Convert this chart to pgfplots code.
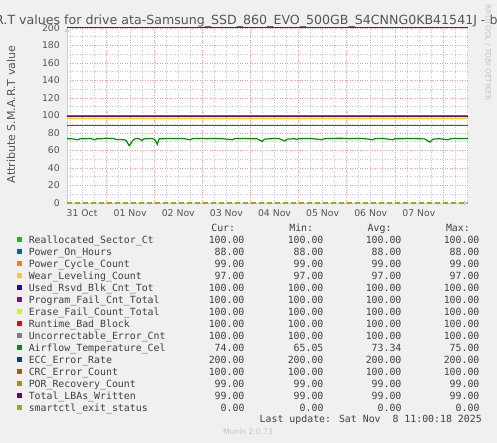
\documentclass[border=0pt]{standalone}
\usepackage{fontspec}
\setmainfont{DejaVu Sans}
\newfontfamily\monofont{DejaVu Sans Mono}
\usepackage{pgfplots}
\pgfplotsset{compat=1.18}
\usetikzlibrary{arrows.meta}

\definecolor{bgcol}{HTML}{F0F0F0}
\definecolor{axiscol}{HTML}{C8C8FF}
\definecolor{majgrid}{HTML}{F09696}
\definecolor{mingrid}{HTML}{C8C8C8}
\definecolor{tickcol}{HTML}{555555}
\definecolor{legcol}{HTML}{404040}
\definecolor{faint}{HTML}{C4C4C4}
% munin palette
\definecolor{cA}{HTML}{00CC00}
\definecolor{cB}{HTML}{0066B3}
\definecolor{cC}{HTML}{FF8000}
\definecolor{cD}{HTML}{FFCC00}
\definecolor{cE}{HTML}{330099}
\definecolor{cF}{HTML}{990099}
\definecolor{cG}{HTML}{CCFF00}
\definecolor{cH}{HTML}{FF0000}
\definecolor{cI}{HTML}{808080}
\definecolor{cJ}{HTML}{008F00}
\definecolor{cK}{HTML}{00487D}
\definecolor{cL}{HTML}{B35A00}
\definecolor{cM}{HTML}{B38F00}
\definecolor{cN}{HTML}{6B006B}
\definecolor{cO}{HTML}{8FB300}

% one legend row: name, cur, min, avg, max
\newcommand\lrow[5]{\rlap{#1}\hspace{215.7bp}\llap{#2}\hspace{79bp}\llap{#3}\hspace{78bp}\llap{#4}\hspace{78bp}\llap{#5}}
\newcommand\legfont{\monofont\fontsize{9.88bp}{12bp}\selectfont}

\begin{document}
\begin{tikzpicture}
\useasboundingbox (0,0) rectangle (497bp,443bp);
\fill[bgcol] (0,0) rectangle (497bp,443bp);
\begin{axis}[
    at={(67bp,240bp)}, anchor=south west,
    scale only axis, width=401bp, height=175bp,
    xmin=4.5, xmax=204.5, ymin=0, ymax=200,
    clip=false,
    axis background/.style={fill=white},
    axis x line=bottom, axis y line=left,
    axis line style={draw=axiscol, line width=0.8bp, -{Triangle[width=5bp,length=4bp]}},
    xtick={24,48,...,192}, xticklabels={},
    minor xtick={6,12,...,204},
    extra x ticks={12,36,...,180},
    extra x tick labels={31 Oct,01 Nov,02 Nov,03 Nov,04 Nov,05 Nov,06 Nov,07 Nov},
    extra x tick style={grid=none, major tick length=0pt},
    ytick={0,20,...,200}, minor ytick={10,30,...,190},
    major tick length=0pt, minor tick length=0pt,
    grid=both,
    major grid style={draw=majgrid, dash pattern=on 1bp off 1.5bp, line width=0.6bp},
    minor grid style={draw=mingrid, dash pattern=on 1bp off 1.5bp, line width=0.6bp},
    /pgf/number format/assume math mode=true,
    ticklabel style={font=\fontsize{9.3bp}{11bp}\selectfont, text=tickcol},
    yticklabel style={inner sep=0pt, xshift=-7bp},
    xticklabel style={inner sep=0pt, yshift=-6bp},
    legend image code/.code={\draw[#1, solid, line width=5.5bp] (0bp,1.9bp) -- (5.5bp,1.9bp); \path[draw=none, fill=none] (0bp,0bp) -- (12bp,0bp);},
    legend cell align=left,
    legend style={at={(axis description cs:-0.13217,-0.1863)}, anchor=north west,
      draw=none, fill=none, inner sep=0pt, outer sep=0pt, row sep=0pt, column sep=0pt,
      font=\legfont, text=legcol,
      nodes={inner sep=0pt, text height=7.7bp, text depth=4.3bp}},
  ]
  \addplot[draw=cA, line width=1bp] coordinates {(4.5,100) (204.5,100)};
  \addlegendentry{\lrow{Reallocated\_Sector\_Ct}{100.00}{100.00}{100.00}{100.00}}
  \addplot[draw=cB, line width=1bp] coordinates {(4.5,88) (204.5,88)};
  \addlegendentry{\lrow{Power\_On\_Hours}{88.00}{88.00}{88.00}{88.00}}
  \addplot[draw=cC, line width=1bp] coordinates {(4.5,99) (204.5,99)};
  \addlegendentry{\lrow{Power\_Cycle\_Count}{99.00}{99.00}{99.00}{99.00}}
  \addplot[draw=cD, line width=1bp] coordinates {(4.5,97) (204.5,97)};
  \addlegendentry{\lrow{Wear\_Leveling\_Count}{97.00}{97.00}{97.00}{97.00}}
  \addplot[draw=cE, line width=1bp] coordinates {(4.5,100) (204.5,100)};
  \addlegendentry{\lrow{Used\_Rsvd\_Blk\_Cnt\_Tot}{100.00}{100.00}{100.00}{100.00}}
  \addplot[draw=cF, line width=1bp] coordinates {(4.5,100) (204.5,100)};
  \addlegendentry{\lrow{Program\_Fail\_Cnt\_Total}{100.00}{100.00}{100.00}{100.00}}
  \addplot[draw=cG, line width=1bp] coordinates {(4.5,100) (204.5,100)};
  \addlegendentry{\lrow{Erase\_Fail\_Count\_Total}{100.00}{100.00}{100.00}{100.00}}
  \addplot[draw=cH, line width=1bp] coordinates {(4.5,100) (204.5,100)};
  \addlegendentry{\lrow{Runtime\_Bad\_Block}{100.00}{100.00}{100.00}{100.00}}
  \addplot[draw=cI, line width=1bp] coordinates {(4.5,100) (204.5,100)};
  \addlegendentry{\lrow{Uncorrectable\_Error\_Cnt}{100.00}{100.00}{100.00}{100.00}}
  \addplot[draw=cJ, line width=1.2bp] coordinates {
    (4.5,73.5) (6,73.5) (8,73.0) (10,72.2) (11,73.5) (14,73.5) (16,73.8)
    (18.5,72.3) (19.5,73.5) (22,73.5) (24,74.0) (26,73.8) (28,73.5)
    (29,72.5) (31,72.5) (33,72.3) (34,71.5) (35.5,65.5) (36.5,68.5)
    (37.5,72.0) (38.5,73.5) (40,73.8) (42,71.5) (43,73.5) (45,73.5)
    (47,73.8) (48.5,72.0) (49.5,67.0) (50.5,73.5) (53,73.5) (56,73.8)
    (59,73.5) (62,73.8) (66,72.3) (67,73.5) (70,73.8) (74,73.5) (78,73.8)
    (82,73.5) (87,72.3) (88,73.5) (92,73.8) (96,73.5) (99,73.5)
    (102,70.5) (103,73.0) (106,73.5) (110,73.8) (113,71.0) (114.5,73.0)
    (118,73.5) (119,72.5) (120,73.5) (122,73.5) (126,73.8) (131.5,72.3)
    (133,73.5) (137,73.8) (141,74.0) (145,73.5) (149,73.8) (153,73.5)
    (157,72.3) (158,73.5) (162,73.8) (167,72.3) (168,73.5) (172,73.5)
    (176,73.8) (180,73.5) (183,73.2) (185.5,69.5) (187,73.0) (190,73.5)
    (194.5,72.3) (196,73.5) (200,73.8) (204.5,73.8)};
  \addlegendentry{\lrow{Airflow\_Temperature\_Cel}{74.00}{65.05}{73.34}{75.00}}
  \addplot[draw=cK, line width=1bp] coordinates {(4.5,200) (204.5,200)};
  \addlegendentry{\lrow{ECC\_Error\_Rate}{200.00}{200.00}{200.00}{200.00}}
  \addplot[draw=cL, line width=1bp] coordinates {(4.5,100) (204.5,100)};
  \addlegendentry{\lrow{CRC\_Error\_Count}{100.00}{100.00}{100.00}{100.00}}
  \addplot[draw=cM, line width=1bp] coordinates {(4.5,99) (204.5,99)};
  \addlegendentry{\lrow{POR\_Recovery\_Count}{99.00}{99.00}{99.00}{99.00}}
  \addplot[draw=cN, line width=1bp] coordinates {(4.5,99) (204.5,99)};
  \addlegendentry{\lrow{Total\_LBAs\_Written}{99.00}{99.00}{99.00}{99.00}}
  \addplot[draw=cO, line width=1.2bp, dash pattern=on 5bp off 3bp] coordinates {(4.5,0) (204.5,0)};
  \addlegendentry{\lrow{smartctl\_exit\_status}{0.00}{0.00}{0.00}{0.00}}
\end{axis}

% title, axis label and footer text
\node[text=tickcol, font=\fontsize{12.6bp}{15bp}\selectfont, anchor=base] at (249bp,418.7bp)
  {S.M.A.R.T values for drive ata-Samsung\_SSD\_860\_EVO\_500GB\_S4CNNG0KB41541J - by week};
\node[rotate=90, text=tickcol, font=\fontsize{11bp}{13bp}\selectfont] at (11bp,328.5bp)
  {Attribute S.M.A.R.T value};
\node[rotate=-90, text=faint, font=\fontsize{7.4bp}{9bp}\selectfont] at (488bp,390.5bp)
  {RRDTOOL / TOBI OETIKER};
\begin{scope}[every node/.style={text=legcol, font=\legfont, inner sep=0pt, anchor=base east}]
  \node at (235.3bp,211.1bp) {Cur:};
  \node at (313.3bp,211.1bp) {Min:};
  \node at (391.7bp,211.1bp) {Avg:};
  \node at (470bp,211.1bp) {Max:};
  \node at (482bp,20.1bp) {Last update: Sat Nov\ \ 8 11:00:18 2025};
\end{scope}
\node[text=faint, font=\fontsize{7.6bp}{9bp}\selectfont] at (248bp,11bp) {Munin 2.0.73};
\end{tikzpicture}
\end{document}
